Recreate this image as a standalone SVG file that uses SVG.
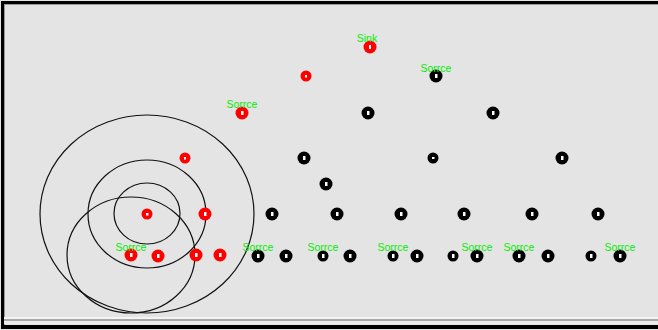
<svg xmlns="http://www.w3.org/2000/svg" width="658" height="330" viewBox="0 0 658 330">
<style>
.r{fill:#ff0000}
.b{fill:#000000}
.in{fill:#ffffff}
.ring{fill:none;stroke:#111;stroke-width:1.2}
.lbl{font-family:"Liberation Sans",Arial,sans-serif;font-size:10.5px;fill:#00ee00;text-anchor:middle}
</style>
<rect x="0" y="0" width="658" height="330" fill="#ffffff"/>
<rect x="0" y="0" width="658" height="330" fill="#e4e4e4"/>
<rect x="1" y="1" width="660" height="3" fill="#000"/>
<rect x="1" y="1" width="3" height="328" fill="#000"/>
<rect x="4" y="4" width="660" height="1" fill="#9a9a9a"/>
<rect x="4" y="4" width="1" height="322" fill="#9a9a9a"/>
<rect x="4" y="317" width="660" height="2" fill="#f4f4f4"/>
<rect x="4" y="319" width="660" height="2" fill="#a8a8a8"/>
<rect x="4" y="321" width="660" height="3" fill="#ececec"/>
<rect x="1" y="325" width="660" height="4" fill="#000"/>
<g id="ranges">
<ellipse class="ring" cx="147" cy="214" rx="107" ry="99"/>
<ellipse class="ring" cx="147" cy="214" rx="59" ry="54"/>
<ellipse class="ring" cx="147" cy="213.5" rx="33" ry="30.5"/>
<ellipse class="ring" cx="131" cy="255" rx="64" ry="58"/>
</g>
<g id="nodes">
<g id="n-sink"><circle class="r" cx="370" cy="47" r="6.5"/><rect class="in" x="369" y="45" width="2" height="4"/><text class="lbl" x="367" y="42">Sink</text></g>
<g id="n-r2"><circle class="r" cx="306" cy="76" r="5.5"/><rect class="in" x="305" y="75" width="2" height="2.5"/></g>
<g id="n-r3"><circle class="r" cx="242" cy="113" r="6.5"/><rect class="in" x="241" y="111" width="2.5" height="4"/><text class="lbl" x="242" y="108">Sorrce</text></g>
<g id="n-r4"><circle class="r" cx="185" cy="158" r="5.5"/><rect class="in" x="184" y="157" width="2" height="2.5"/></g>
<g id="n-r5"><circle class="r" cx="147" cy="214" r="5.5"/><rect class="in" x="146" y="213" width="2.5" height="2.5"/></g>
<g id="n-r6"><circle class="r" cx="205" cy="214" r="6.5"/><rect class="in" x="204" y="212" width="2.5" height="4"/></g>
<g id="n-r7"><circle class="r" cx="131" cy="255" r="6.5"/><rect class="in" x="130" y="253" width="2.5" height="4"/><text class="lbl" x="131" y="251">Sorrce</text></g>
<g id="n-r8"><circle class="r" cx="158" cy="256" r="6.5"/><rect class="in" x="157" y="254" width="2.5" height="4"/></g>
<g id="n-r9"><circle class="r" cx="196" cy="255" r="6.5"/><rect class="in" x="195" y="253" width="2.5" height="4"/></g>
<g id="n-r10"><circle class="r" cx="220" cy="255" r="6.5"/><rect class="in" x="219" y="253" width="2.5" height="4"/></g>

<g id="n-b1"><circle class="b" cx="436" cy="76" r="6.5"/><rect class="in" x="435" y="74" width="2.5" height="4"/><text class="lbl" x="436" y="72">Sorrce</text></g>
<g id="n-b2"><circle class="b" cx="368" cy="113" r="6.5"/><rect class="in" x="367" y="111" width="2.5" height="4"/></g>
<g id="n-b3"><circle class="b" cx="493" cy="113" r="6.5"/><rect class="in" x="492" y="111" width="2.5" height="4"/></g>
<g id="n-b4"><circle class="b" cx="304" cy="158" r="6.5"/><rect class="in" x="303" y="156" width="2.5" height="4"/></g>
<g id="n-b5"><circle class="b" cx="433" cy="158" r="5.5"/><rect class="in" x="432" y="157" width="2.5" height="2"/></g>
<g id="n-b6"><circle class="b" cx="562" cy="158" r="6.5"/><rect class="in" x="561" y="156" width="2.5" height="4"/></g>
<g id="n-b7"><circle class="b" cx="326" cy="184" r="6.5"/><rect class="in" x="325" y="182" width="2.5" height="4"/></g>
<g id="n-b8"><circle class="b" cx="272" cy="214" r="6.5"/><rect class="in" x="271" y="212" width="2.5" height="4"/></g>
<g id="n-b9"><circle class="b" cx="337" cy="214" r="6.5"/><rect class="in" x="336" y="212" width="2.5" height="4"/></g>
<g id="n-b10"><circle class="b" cx="401" cy="214" r="6.5"/><rect class="in" x="400" y="212" width="2.5" height="4"/></g>
<g id="n-b11"><circle class="b" cx="464" cy="214" r="6.5"/><rect class="in" x="463" y="212" width="2.5" height="4"/></g>
<g id="n-b12"><circle class="b" cx="532" cy="214" r="6.5"/><rect class="in" x="531" y="212" width="2.5" height="4"/></g>
<g id="n-b13"><circle class="b" cx="598" cy="214" r="6.5"/><rect class="in" x="597" y="212" width="2.5" height="4"/></g>
<g id="n-b14"><circle class="b" cx="258" cy="256" r="6.5"/><rect class="in" x="257" y="254" width="2.5" height="4"/><text class="lbl" x="258" y="251">Sorrce</text></g>
<g id="n-b15"><circle class="b" cx="286" cy="256" r="6.5"/><rect class="in" x="285" y="254" width="2.5" height="4"/></g>
<g id="n-b16"><circle class="b" cx="323" cy="256" r="5.5"/><rect class="in" x="322" y="254" width="2.5" height="4"/><text class="lbl" x="323" y="251">Sorrce</text></g>
<g id="n-b17"><circle class="b" cx="350" cy="256" r="6.5"/><rect class="in" x="349" y="254" width="2.5" height="4"/></g>
<g id="n-b18"><circle class="b" cx="393" cy="256" r="5.5"/><rect class="in" x="392" y="254" width="2.5" height="4"/><text class="lbl" x="393" y="251">Sorrce</text></g>
<g id="n-b19"><circle class="b" cx="417" cy="256" r="6.5"/><rect class="in" x="416" y="254" width="2.5" height="4"/></g>
<g id="n-b20"><circle class="b" cx="453" cy="256" r="5.5"/><rect class="in" x="452" y="254" width="2.5" height="4"/></g>
<g id="n-b21"><circle class="b" cx="477" cy="256" r="6.5"/><rect class="in" x="476" y="254" width="2.5" height="4"/><text class="lbl" x="477" y="251">Sorrce</text></g>
<g id="n-b22"><circle class="b" cx="519" cy="256" r="6.5"/><rect class="in" x="518" y="254" width="2.5" height="4"/><text class="lbl" x="519" y="251">Sorrce</text></g>
<g id="n-b23"><circle class="b" cx="548" cy="256" r="6.5"/><rect class="in" x="547" y="254" width="2.5" height="4"/></g>
<g id="n-b24"><circle class="b" cx="591" cy="256" r="5.5"/><rect class="in" x="590" y="254" width="2.5" height="4"/></g>
<g id="n-b25"><circle class="b" cx="620" cy="256" r="6.5"/><rect class="in" x="619" y="254" width="2.5" height="4"/><text class="lbl" x="620" y="251">Sorrce</text></g>
</g>
<g id="connectors"/>
</svg>
